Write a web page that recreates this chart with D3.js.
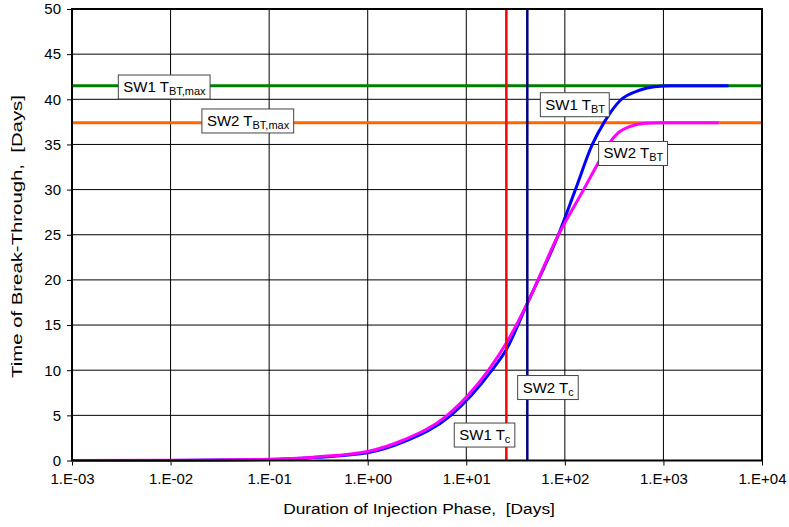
<!DOCTYPE html>
<html>
<head>
<meta charset="utf-8">
<script src="https://cdn.jsdelivr.net/npm/d3@7"></script>
<style>
  html, body { margin: 0; padding: 0; background: #fff; }
  svg { display: block; font-family: "Liberation Sans", Arial, sans-serif; }
</style>
</head>
<body>
<svg id="chart" width="789" height="527"></svg>
<script>
// ---- data ----
const sw1Duration = [0.001, 0.01, 0.1, 0.3, 1, 2.31, 6.98, 18.2, 25.5, 41.6, 86, 128, 190, 252, 366, 570, 811, 1205, 4570];
const sw1TBT =      [0, 0.01, 0.1, 0.35, 0.85, 2.05, 5.0, 10.0, 12.3, 17.4, 25.0, 30.0, 35.0, 37.5, 39.9, 41.0, 41.4, 41.5, 41.5];
const sw2Duration = [0.001, 0.01, 0.1, 0.3, 1, 2.31, 6.41, 16.8, 25.5, 41.6, 86, 155, 219, 277, 349, 462, 656, 933, 3640];
const sw2TBT =      [0, 0.02, 0.13, 0.4, 1.0, 2.27, 5.0, 10.0, 13.0, 17.4, 25.0, 30.0, 33.0, 35.0, 36.3, 37.0, 37.35, 37.4, 37.4];
const sw1TBTmax = 41.5;
const sw2TBTmax = 37.4;
const sw1Tc = 25.5;
const sw2Tc = 41.6;
const xTickValues = [1e-3, 1e-2, 1e-1, 1e0, 1e1, 1e2, 1e3, 1e4];
const yTickValues = [0, 5, 10, 15, 20, 25, 30, 35, 40, 45, 50];
const xTitle = "Duration of Injection Phase,\u00A0 [Days]";
const yTitle = "Time of Break-Through,\u00A0 [Days]";

// annotation labels (main text, subscript) anchored in data coordinates (left edge, vertical centre)
const labels = [
  { main: "SW1 T", sub: "BT,max", ax: 0.00295, ay: 41.36 },
  { main: "SW2 T", sub: "BT,max", ax: 0.0208, ay: 37.6 },
  { main: "SW1 T", sub: "BT", ax: 56.4, ay: 39.4 },
  { main: "SW2 T", sub: "BT", ax: 220, ay: 34.0 },
  { main: "SW2 T", sub: "c", ax: 33.2, ay: 8.08 },
  { main: "SW1 T", sub: "c", ax: 7.55, ay: 2.82 }
];

// ---- layout ----
const svg = d3.select("#chart");
const L = 72, R = 762, T = 9, B = 460.5;
const x = d3.scaleLog().domain([1e-3, 1e4]).range([L, R]);
const y = d3.scaleLinear().domain([0, 50]).range([B, T]);

const fmt = v => {
  const e = Math.round(Math.log10(v));
  return "1.E" + (e < 0 ? "-" : "+") + String(Math.abs(e)).padStart(2, "0");
};

// grid
const grid = svg.append("g");
grid.selectAll(".gx").data(xTickValues).join("line")
  .attr("x1", d => x(d)).attr("x2", d => x(d)).attr("y1", T).attr("y2", B)
  .attr("stroke", "#000").attr("stroke-width", 1);
grid.selectAll(".gy").data(yTickValues).join("line")
  .attr("x1", L).attr("x2", R).attr("y1", d => y(d)).attr("y2", d => y(d))
  .attr("stroke", "#000").attr("stroke-width", 1);

// axes
const xAxis = d3.axisBottom(x).tickValues(xTickValues).tickFormat(fmt).tickSize(5).tickPadding(8);
const yAxis = d3.axisLeft(y).tickValues(yTickValues).tickSize(5).tickPadding(6);
const gx = svg.append("g").attr("transform", `translate(0,${B})`).call(xAxis);
const gy = svg.append("g").attr("transform", `translate(${L},0)`).call(yAxis);
[gx, gy].forEach(g => {
  g.select(".domain").remove();
  g.selectAll("text").attr("font-size", 15).attr("fill", "#000").attr("font-family", "Liberation Sans, Arial, sans-serif");
  g.selectAll("line").attr("stroke", "#000");
});

// reference horizontal lines
svg.append("line").attr("x1", L).attr("x2", R).attr("y1", y(sw1TBTmax)).attr("y2", y(sw1TBTmax))
  .attr("stroke", "#008000").attr("stroke-width", 3);
svg.append("line").attr("x1", L).attr("x2", R).attr("y1", y(sw2TBTmax)).attr("y2", y(sw2TBTmax))
  .attr("stroke", "#FF6600").attr("stroke-width", 3);

// curves
const line = d3.line().x(d => x(d[0])).y(d => y(d[1])).curve(d3.curveMonotoneX);
svg.append("path").datum(sw1Duration.map((d, i) => [d, sw1TBT[i]]))
  .attr("d", line).attr("fill", "none").attr("stroke", "#0000FF").attr("stroke-width", 3);
svg.append("path").datum(sw2Duration.map((d, i) => [d, sw2TBT[i]]))
  .attr("d", line).attr("fill", "none").attr("stroke", "#FF00FF").attr("stroke-width", 3);

// vertical lines
svg.append("line").attr("x1", x(sw1Tc)).attr("x2", x(sw1Tc)).attr("y1", T).attr("y2", B)
  .attr("stroke", "#FF0000").attr("stroke-width", 2.5);
svg.append("line").attr("x1", x(sw2Tc)).attr("x2", x(sw2Tc)).attr("y1", T).attr("y2", B)
  .attr("stroke", "#000080").attr("stroke-width", 2.5);

// frame
svg.append("rect").attr("x", L).attr("y", T).attr("width", R - L).attr("height", B - T)
  .attr("fill", "none").attr("stroke", "#000").attr("stroke-width", 2);

// labels
labels.forEach(lb => {
  const g = svg.append("g");
  const rect = g.append("rect").attr("fill", "#fff").attr("stroke", "#444").attr("stroke-width", 1);
  const t = g.append("text").attr("x", x(lb.ax) + 5).attr("y", y(lb.ay) + 5)
    .attr("font-size", 15).attr("fill", "#000");
  t.append("tspan").text(lb.main);
  t.append("tspan").attr("font-size", 11).attr("dy", 3).text(lb.sub);
  const bb = t.node().getBBox();
  rect.attr("x", x(lb.ax)).attr("y", y(lb.ay) - 12)
    .attr("width", bb.width + 9).attr("height", 24);
});

// axis titles (glyphs stretched horizontally to match the reference's text widths)
function stretchedText(cx, cy, rot, txt, targetW) {
  const g = svg.append("g").attr("transform", `translate(${cx},${cy}) rotate(${rot})`);
  const t = g.append("text").attr("text-anchor", "middle").attr("font-size", 15).attr("fill", "#000").text(txt);
  const w = t.node().getComputedTextLength();
  t.attr("transform", `scale(${targetW / w},1)`);
}
stretchedText(419, 514, 0, xTitle, 272);
stretchedText(22, 236.5, -90, yTitle, 283);
</script>
</body>
</html>
